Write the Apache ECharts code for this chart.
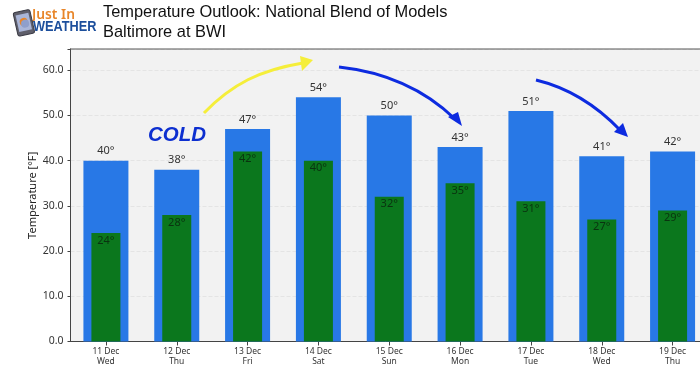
<!DOCTYPE html>
<html><head><meta charset="utf-8">
<style>html,body{margin:0;padding:0;background:#fff}#c{width:700px;height:373px}</style>
<script src="https://cdn.jsdelivr.net/npm/echarts@6/dist/echarts.min.js"></script></head>
<body><div id="c"></div><script>
const days=['11 Dec\nWed','12 Dec\nThu','13 Dec\nFri','14 Dec\nSat','15 Dec\nSun','16 Dec\nMon','17 Dec\nTue','18 Dec\nWed','19 Dec\nThu'];
const highs=[40,38,47,54,50,43,51,41,42];
const lows=[24,28,42,40,32,35,31,27,29];
const yTicks=[0,10,20,30,40,50,60];
const font='"Noto Sans","Open Sans",sans-serif';
const chart=echarts.init(document.getElementById('c'),null,{renderer:'canvas'});
function curve(x1,y1,cx1,cy1,cx2,cy2,x2,y2,color,w){return {type:'bezierCurve',shape:{x1,y1,cpx1:cx1,cpy1:cy1,cpx2:cx2,cpy2:cy2,x2,y2},style:{stroke:color,lineWidth:w,fill:null},z:20};}
function head(points,color){return {type:'polygon',shape:{points},style:{fill:color},z:20};}
chart.setOption({
 animation:false,backgroundColor:'#fff',
 grid:{left:70.5,top:49,width:637.5,height:292.5,backgroundColor:'#f2f2f2',show:true,borderWidth:0,outerBoundsMode:'none'},
 xAxis:[{type:'category',data:days,axisTick:{show:true,alignWithLabel:true,length:4,lineStyle:{color:'#444'}},
  axisLine:{lineStyle:{color:'#444',width:1}},
  axisLabel:{color:'#333',fontSize:8.5,fontFamily:font,lineHeight:10,margin:5,interval:0}},
  {type:'category',data:days,show:false,position:'bottom'}],
 yAxis:{type:'value',min:0,max:64.7,interval:10,
  axisLine:{show:true,lineStyle:{color:'#444',width:1}},axisTick:{show:true,length:3,lineStyle:{color:'#444'}},
  splitLine:{lineStyle:{color:'#e4e4e4',type:'dashed',width:1}},
  axisLabel:{color:'#333',fontSize:10.5,fontFamily:font,margin:7,formatter:v=>yTicks.includes(v)?v.toFixed(1):''},
  name:'Temperature [°F]',nameLocation:'middle',nameGap:32,nameMoveOverlap:false,nameTextStyle:{color:'#222',fontSize:11,fontFamily:font}},
 series:[
  {type:'bar',data:highs,barWidth:45,xAxisIndex:0,itemStyle:{color:'#2878e6'},
   label:{show:true,position:'top',distance:4,color:'#333',fontSize:11,fontFamily:font,formatter:p=>p.value+'°'},z:2},
  {type:'bar',data:lows,barWidth:29,xAxisIndex:1,itemStyle:{color:'#0b771d'},
   label:{show:true,position:'insideTop',distance:2,color:'#0a3310',fontSize:11,fontFamily:font,formatter:p=>p.value+'°'},z:3}
 ],
 graphic:[
  {type:'line',shape:{x1:70,y1:49,x2:700,y2:49},style:{stroke:'#555',lineWidth:1},z:20},
  {type:'text',x:103,y:4,style:{text:'Temperature Outlook: National Blend of Models',font:'16.4px "Liberation Sans",Arial,sans-serif',fill:'#111'},z:20},
  {type:'text',x:103,y:24,style:{text:'Baltimore at BWI',font:'16.4px "Liberation Sans",Arial,sans-serif',fill:'#111'},z:20},
  {type:'text',x:32,y:7,scaleX:0.92,style:{text:'Just In',font:'600 15px "Noto Sans",sans-serif',fill:'#e8862a'},z:20},
  {type:'text',x:33,y:19,scaleX:0.88,style:{text:'WEATHER',font:'bold 14.5px "Liberation Sans",sans-serif',fill:'#1d4f9c'},z:20},
  {type:'rect',rotation:0.22,x:13,y:13,shape:{x:0,y:0,width:17,height:24,r:2},style:{fill:'#5f5f6b',stroke:'#3a3a44',lineWidth:1},z:20},
  {type:'rect',rotation:0.22,x:13,y:13,shape:{x:2,y:3,width:13,height:17},style:{fill:'#aab6d8'},z:21},
  {type:'circle',rotation:0.22,x:13,y:13,shape:{cx:8.5,cy:11,r:4},style:{fill:'#e8862a'},z:22},
  {type:'circle',rotation:0.22,x:13,y:13,shape:{cx:9.5,cy:13,r:4},style:{fill:'#8f9fcb'},z:23},
  {type:'text',x:148,y:125,style:{text:'COLD',font:'italic bold 20.5px "Liberation Sans",Arial,sans-serif',fill:'#0d2fd0'},z:20},
  curve(204,113,232,84,260,70,303,63,'#f5ee3a',3), head([[313,60],[300,56],[302,71]],'#f5ee3a'),
  curve(339,67,385,72,425,90,455,119,'#0d2be0',3), head([[462,126],[448,117],[458,112]],'#0d2be0'),
  curve(536,80,565,87,595,104,620,130,'#0d2be0',3), head([[628,137],[614,132],[623,123]],'#0d2be0')
 ]
});
</script></body></html>
